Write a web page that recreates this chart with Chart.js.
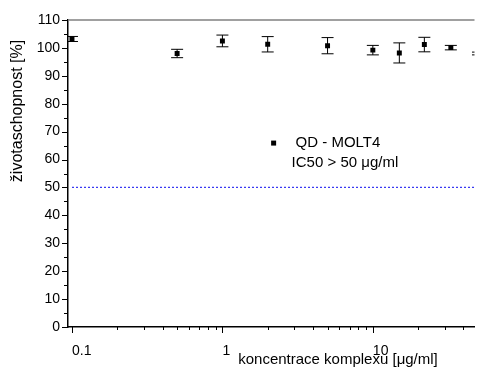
<!DOCTYPE html>
<html lang="cs">
<head>
    <meta charset="utf-8">
    <title>Životaschopnost QD - MOLT4</title>
    <script src="https://cdn.jsdelivr.net/npm/chart.js@4.4.0/dist/chart.umd.min.js"></script>
    <style>
        body { margin: 0; background: #fff; }
    </style>
</head>
<body>
<canvas id="viabilityChart" width="478" height="367"></canvas>

<script type="text/javascript">

    // koncentrace [ug/ml] a zivotaschopnost [%]
    const concentrations = [0.1, 0.5, 1, 2, 5, 10, 15, 22, 33, 50];
    const viability = [103.2, 98.0, 102.5, 101.3, 100.8, 99.2, 98.2, 101.2, 100.1, 98.0];
    const viabilityErr = [0.9, 1.5, 2.1, 2.75, 2.9, 1.7, 3.6, 2.6, 0.8, 0.5];

    const xTickValues = [0.1, 1, 10];
    const yTickValues = [0, 10, 20, 30, 40, 50, 60, 70, 80, 90, 100, 110];
    const ic50Level = 50;
    const xRange = [0.0941, 47.4];

    const fontFamily = "'Liberation Sans', Arial, sans-serif";

    const points = concentrations.map((c, i) => ({x: c, y: viability[i]}));

    // error bars + tick marks + texts, all placed through chart scales
    const extrasPlugin = {
        id: 'extras',
        beforeDatasetsDraw(chart) {
            const {ctx, chartArea, scales} = chart;
            ctx.save();
            ctx.beginPath();
            ctx.rect(chartArea.left, chartArea.top, chartArea.right - chartArea.left, chartArea.bottom - chartArea.top);
            ctx.clip();
            ctx.strokeStyle = '#000';
            ctx.lineWidth = 1;
            for (let i = 0; i < concentrations.length; i++) {
                const px = scales.x.getPixelForValue(concentrations[i]);
                const top = scales.y.getPixelForValue(viability[i] + viabilityErr[i]);
                const bot = scales.y.getPixelForValue(viability[i] - viabilityErr[i]);
                ctx.beginPath();
                ctx.moveTo(px, top);
                ctx.lineTo(px, bot);
                ctx.moveTo(px - 6, top);
                ctx.lineTo(px + 6, top);
                ctx.moveTo(px - 6, bot);
                ctx.lineTo(px + 6, bot);
                ctx.stroke();
            }
            ctx.restore();
        },
        afterDraw(chart) {
            const {ctx, chartArea, scales} = chart;
            ctx.save();

            // top frame line
            ctx.strokeStyle = '#808080';
            ctx.lineWidth = 1.5;
            ctx.beginPath();
            ctx.moveTo(chartArea.left, chartArea.top);
            ctx.lineTo(chartArea.right, chartArea.top);
            ctx.stroke();

            // tick marks
            ctx.strokeStyle = '#000';
            ctx.lineWidth = 1;
            ctx.beginPath();
            for (let v = 0; v <= 110; v += 5) {
                const py = Math.round(scales.y.getPixelForValue(v)) + 0.5;
                const len = v % 10 === 0 ? 6 : 4;
                ctx.moveTo(chartArea.left - len, py);
                ctx.lineTo(chartArea.left, py);
            }
            for (let d = -2; d <= 2; d++) {
                for (let k = 1; k <= 9; k++) {
                    const v = k * Math.pow(10, d);
                    if (v < xRange[0] || v > xRange[1]) continue;
                    const px = Math.round(scales.x.getPixelForValue(v)) + 0.5;
                    const len = k === 1 ? 6 : 3;
                    ctx.moveTo(px, chartArea.bottom);
                    ctx.lineTo(px, chartArea.bottom + len);
                }
            }
            ctx.stroke();

            // axis titles
            ctx.fillStyle = '#000';
            ctx.font = '15px ' + fontFamily;
            ctx.textAlign = 'center';
            ctx.textBaseline = 'alphabetic';
            ctx.fillText('koncentrace komplexu [μg/ml]', 338, 364);

            ctx.save();
            ctx.translate(22, 111);
            ctx.rotate(-Math.PI / 2);
            ctx.font = '16px ' + fontFamily;
            ctx.fillText('životaschopnost [%]', 0, 0);
            ctx.restore();

            // legend
            const lx = scales.x.getPixelForValue(2.19);
            const ly = scales.y.getPixelForValue(65.9);
            ctx.fillRect(lx - 2.5, ly - 2.5, 5, 5);
            ctx.textAlign = 'left';
            ctx.textBaseline = 'middle';
            ctx.font = '15px ' + fontFamily;
            ctx.fillText('QD - MOLT4', lx + 22, ly);
            ctx.fillText('IC50 > 50 μg/ml', lx + 18, ly + 20);

            ctx.restore();
        }
    };

    new Chart("viabilityChart", {
        type: 'scatter',
        data: {
            datasets: [
                {
                    label: "QD - MOLT4",
                    data: points,
                    pointStyle: 'rect',
                    pointRadius: 3.5,
                    pointHoverRadius: 3.5,
                    backgroundColor: "#000",
                    borderColor: "#000",
                    borderWidth: 0
                },
                {
                    type: 'line',
                    label: "IC50",
                    data: [{x: 0.1, y: ic50Level}, {x: xRange[1], y: ic50Level}],
                    borderColor: "#3a3af2",
                    borderWidth: 1.3,
                    borderDash: [2, 2],
                    pointRadius: 0,
                    fill: false
                }
            ]
        },
        options: {
            responsive: false,
            animation: false,
            events: [],
            layout: {padding: {top: 20, left: 0, right: 0, bottom: 0}},
            plugins: {
                legend: {display: false},
                tooltip: {enabled: false}
            },
            scales: {
                x: {
                    type: 'logarithmic',
                    min: xRange[0],
                    max: xRange[1],
                    afterBuildTicks: scale => {
                        scale.ticks = xTickValues.map(v => ({value: v, major: true}));
                    },
                    afterFit: scale => { scale.height = 40; },
                    grid: {display: false, drawTicks: false},
                    border: {display: true, color: '#000', width: 1.5},
                    ticks: {
                        align: 'start',
                        autoSkip: false,
                        maxRotation: 0,
                        padding: 16,
                        color: '#000',
                        font: {family: fontFamily, size: 14},
                        callback: value => String(value)
                    }
                },
                y: {
                    min: 0,
                    max: 110,
                    afterBuildTicks: scale => {
                        scale.ticks = yTickValues.map(v => ({value: v}));
                    },
                    afterFit: scale => { scale.width = 68; },
                    grid: {display: false, drawTicks: false},
                    border: {display: true, color: '#000', width: 1.5},
                    ticks: {
                        padding: 8,
                        color: '#000',
                        font: {family: fontFamily, size: 14},
                        callback: value => String(value)
                    }
                }
            }
        },
        plugins: [extrasPlugin]
    });

</script>
</body>
</html>
